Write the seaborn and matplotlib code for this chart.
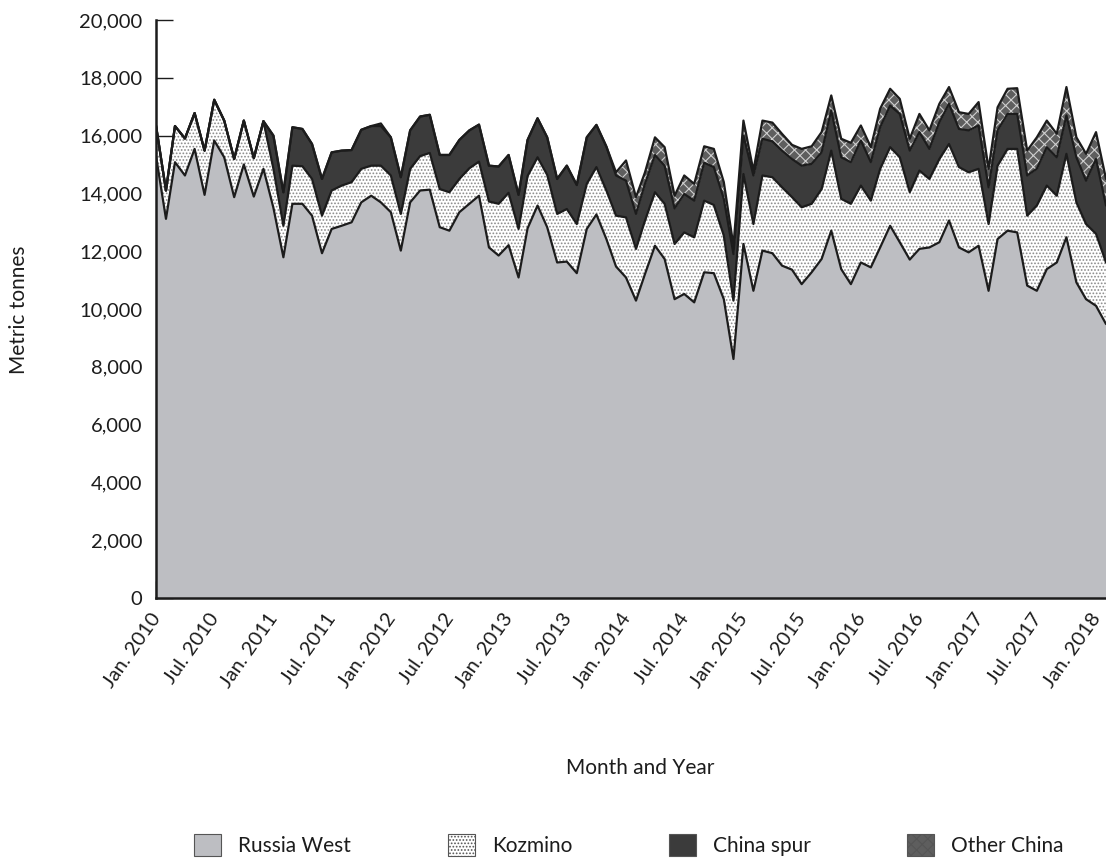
import pandas as pd
import numpy as np
import seaborn as sns
import matplotlib.pyplot as plt
import matplotlib.transforms as mtransforms
from matplotlib.patches import Patch

# Data (metric tonnes per month, Jan. 2010 - Feb. 2018)
months = pd.date_range('2010-01-01', periods=98, freq='MS')

russia_west = [15300, 13120, 15080, 14620, 15540, 13950, 15830, 15250, 13870, 15000,
               13890, 14850, 13500, 11790, 13640, 13640, 13230, 11930, 12770, 12880,
               13000, 13690, 13920, 13690, 13350, 12020, 13690, 14100, 14130, 12830,
               12710, 13350, 13640, 13920, 12130, 11850, 12210, 11090, 12790, 13580,
               12830, 11610, 11640, 11240, 12770, 13270, 12420, 11470, 11090, 10290,
               11210, 12190, 11730, 10340, 10520, 10230, 11270, 11240, 10340, 8270,
               12250, 10630, 12020, 11930, 11500, 11360, 10860, 11270, 11730, 12710,
               11380, 10860, 11610, 11440, 12130, 12880, 12310, 11710, 12080, 12130,
               12310, 13060, 12130, 11960, 12190, 10630, 12420, 12710, 12650, 10810,
               10630, 11380, 11610, 12480, 10920, 10340, 10110, 9480]
kozmino = [1050, 980, 1250, 1280, 1240, 1530, 1410, 1270, 1320, 1520,
           1330, 1650, 1350, 1090, 1320, 1300, 1270, 1300, 1330, 1390,
           1390, 1160, 1040, 1270, 1270, 1270, 1160, 1190, 1270, 1320,
           1330, 1150, 1230, 1180, 1590, 1790, 1810, 1680, 1810, 1670,
           1810, 1680, 1820, 1700, 1560, 1640, 1680, 1760, 2080, 1790,
           1850, 1850, 1910, 1910, 2130, 2250, 2480, 2360, 2200, 2020,
           2420, 2310, 2600, 2630, 2710, 2510, 2660, 2370, 2420, 2770,
           2430, 2780, 2660, 2310, 2720, 2720, 2940, 2330, 2710, 2370,
           2880, 2650, 2780, 2770, 2660, 2310, 2540, 2830, 2890, 2420,
           2950, 2890, 2310, 2890, 2770, 2600, 2490, 2130]
china_spur = [0, 0, 0, 0, 0, 0, 0, 0, 0, 0,
              0, 0, 1150, 1160, 1330, 1290, 1210, 1270, 1320, 1210,
              1110, 1350, 1370, 1370, 1320, 1270, 1330, 1370, 1320, 1180,
              1290, 1350, 1310, 1280, 1240, 1290, 1310, 1180, 1250, 1350,
              1300, 1210, 1500, 1350, 1610, 1460, 1520, 1390, 1270, 1210,
              1270, 1290, 1320, 1230, 1330, 1270, 1310, 1310, 1270, 1610,
              1330, 1680, 1270, 1240, 1270, 1320, 1440, 1380, 1270, 1390,
              1440, 1440, 1560, 1330, 1440, 1440, 1500, 1440, 1330, 1040,
              1270, 1390, 1320, 1450, 1500, 1270, 1220, 1210, 1210, 1390,
              1270, 1330, 1330, 1330, 1560, 1500, 2590, 1970]
other_china = [0, 0, 0, 0, 0, 0, 0, 0, 0, 0,
               0, 0, 0, 0, 0, 0, 0, 0, 0, 0,
               0, 0, 0, 90, 0, 0, 0, 0, 0, 0,
               0, 0, 0, 0, 0, 0, 0, 0, 0, 0,
               0, 0, 0, 0, 0, 0, 0, 110, 700, 580,
               400, 610, 640, 440, 640, 580, 570, 630, 580, 290,
               520, 170, 630, 650, 580, 490, 580, 610, 700, 520,
               640, 670, 520, 520, 640, 580, 520, 410, 630, 640,
               640, 580, 580, 570, 810, 640, 800, 870, 890, 860,
               1090, 920, 810, 980, 690, 930, 930, 920]

series_names = ['Russia West', 'Kozmino', 'China spur', 'Other China']

df = pd.DataFrame({'month': months,
                   'Russia West': russia_west,
                   'Kozmino': kozmino,
                   'China spur': china_spur,
                   'Other China': other_china})

sns.set_style('ticks')
plt.rcParams['font.family'] = ['Lato', 'DejaVu Sans']
plt.rcParams['hatch.linewidth'] = 0.8

# fill styles per layer
styles = {
    'Russia West': dict(facecolor='#bdbec2', edgecolor='#bdbec2', hatch=None),
    'Kozmino': dict(facecolor='white', edgecolor='#8a8a8a', hatch='.....'),
    'China spur': dict(facecolor='#3b3b3b', edgecolor='#3b3b3b', hatch=None),
    'Other China': dict(facecolor='#5e5e5e', edgecolor='#cfcfcf', hatch='xxx'),
}

fig = plt.figure(figsize=(11.06, 8.58), dpi=100)
ax = fig.add_axes([156 / 1106, 1 - 598 / 858, 950 / 1106, 578 / 858])

lower = np.zeros(len(df))
for name in series_names:
    upper = lower + df[name].to_numpy()
    st = styles[name]
    ax.fill_between(df['month'], lower, upper, facecolor=st['facecolor'],
                    edgecolor=st['edgecolor'], hatch=st['hatch'], linewidth=0, zorder=1)
    lower = upper

# boundary lines on top of the fills
lower = np.zeros(len(df))
for name in series_names:
    upper = lower + df[name].to_numpy()
    sns.lineplot(x=df['month'], y=upper, color='#1c1c1c', linewidth=1.6, ax=ax, zorder=3)
    lower = upper

ax.set_xlim(months[0], months[-1])
ax.set_ylim(0, 20000)
ax.set_yticks(np.arange(0, 20001, 2000))
ax.yaxis.set_major_formatter(plt.FuncFormatter(lambda v, p: f'{v:,.0f}'))

tick_dates = pd.date_range('2010-01-01', '2018-01-01', freq='6MS')
ax.set_xticks(tick_dates)
ax.set_xticklabels([('Jan. ' if d.month == 1 else 'Jul. ') + str(d.year) for d in tick_dates],
                   rotation=55, ha='right', rotation_mode='anchor')

ax.tick_params(axis='both', direction='in', length=12, width=1, color='#1c1c1c',
               labelsize=14.5, labelcolor='#1c1c1c')
ax.tick_params(axis='y', pad=10)
ax.tick_params(axis='x', pad=9)

# nudge the slanted date labels a little to the left so the last one fits
shift = mtransforms.ScaledTranslation(-6 / 100, 0, fig.dpi_scale_trans)
for lab in ax.get_xticklabels():
    lab.set_transform(lab.get_transform() + shift)

sns.despine(ax=ax)
for s in ['left', 'bottom']:
    ax.spines[s].set_linewidth(1.8)
    ax.spines[s].set_color('#1c1c1c')
    ax.spines[s].set_zorder(5)

ax.set_xlabel('')
ax.set_ylabel('')
fig.text(640 / 1106, 1 - 768 / 858, 'Month and Year', ha='center', va='center',
         fontsize=15, color='#1c1c1c')
fig.text(19 / 1106, 1 - 310 / 858, 'Metric tonnes', ha='center', va='center',
         rotation=90, fontsize=15, color='#1c1c1c')

handles = [Patch(facecolor=styles[n]['facecolor'], edgecolor='#555555',
                 hatch=styles[n]['hatch'], linewidth=0.8) for n in series_names]
leg = fig.legend(handles, series_names, loc='center', bbox_to_anchor=(629 / 1106, 1 - 845 / 858),
                 ncol=4, frameon=False, fontsize=15, handlelength=1.3, handleheight=1.3,
                 handletextpad=0.8, columnspacing=4.65)
for t in leg.get_texts():
    t.set_color('#1c1c1c')

fig.savefig('out.png', dpi=100)
